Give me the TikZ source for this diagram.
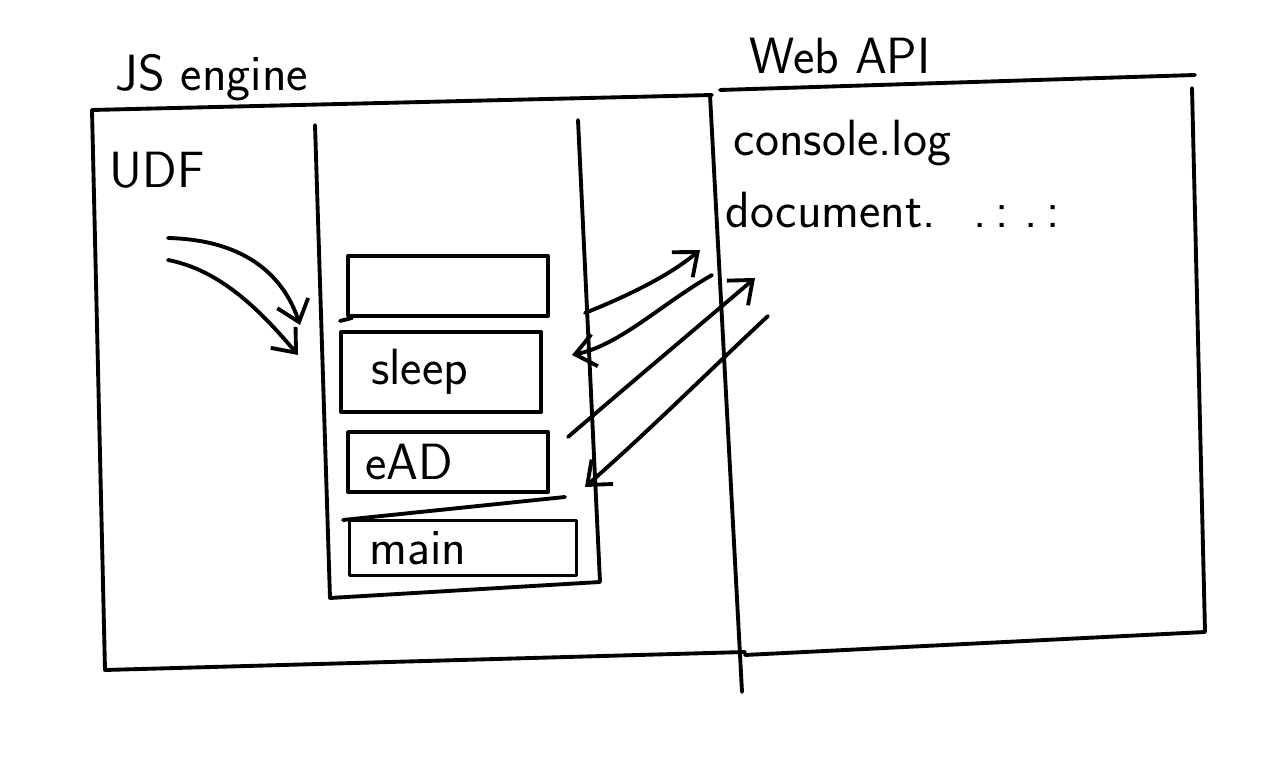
\documentclass[tikz,border=0pt]{standalone}
\usetikzlibrary{arrows.meta}

\begin{document}
\begin{tikzpicture}[x=0.2mm, y=-0.2mm, line width=2.2pt, line cap=round, line join=round,
      every node/.append style={font=\sffamily\fontsize{29}{34}\selectfont},
      call/.style={-{Straight Barb[length=4mm,width=6.5mm,line width=2.2pt]}}]
    \tikzstyle{frame} = [draw=black,line width=2.2pt,inner xsep=4mm,inner ysep=0pt,align=left,text width=32mm]
    \tikzstyle{title} = [anchor=center]
    \useasboundingbox (0,0) rectangle (1280,768);
    % outer boxes
    \draw (92,110) -- (712,95);
    \draw (92,110) -- (105,670) -- (745,652);
    \draw (710,95) -- (742,692);
    \draw (720,90) -- (1195,75);
    \draw (1192,88) -- (1205,632) -- (745,655);
    \node [title] (js) at (212,78) {JS engine};
    \node [title] (web) at (840,56) {Web API};
    \node [title] (udf) at (157,170) {UDF};
    \node [title,anchor=west] (log) at (726,143) {console.log};
    \node [title,anchor=west] (doc) at (718,210) {document. \ .\,:\ .\,:};
    % call stack
    \draw (315,125) -- (330,598) -- (600,582) -- (578,120);
    \node [frame,minimum height=12mm] (empty) at (448,286) {};
    \draw (340,321) -- (352,318);
    \node [frame,minimum height=16mm,inner xsep=6mm,text width=28mm] (sleep) at (441,372) {sleep};
    \node [frame,minimum height=12mm,inner xsep=3.5mm,text width=33mm] (ead) at (448,462) {eAD};
    \draw (343,520) -- (565,497);
    \node [frame,minimum height=11mm,text width=37.4mm] (main) at (463,548) {main};
    % calls
    \coordinate (u1) at (168,238);
    \coordinate (u2) at (168,260);
    \coordinate (s1) at (300,325);
    \coordinate (s2) at (298,355);
    \draw [call] (u1) .. controls (250,240) and (285,280) .. (s1);
    \draw [call] (u2) .. controls (220,270) and (260,310) .. (s2);
    \coordinate (a1) at (585,313);
    \coordinate (b1) at (700,250);
    \coordinate (a2) at (712,275);
    \coordinate (b2) at (572,355);
    \coordinate (a3) at (568,437);
    \coordinate (b3) at (755,278);
    \coordinate (a4) at (768,316);
    \coordinate (b4) at (585,487);
    \draw [call] (a1) .. controls (630,295) and (670,275) .. (b1);
    \draw [call] (a2) .. controls (660,305) and (620,345) .. (b2);
    \draw [call] (a3) .. controls (640,375) and (700,325) .. (b3);
    \draw [call] (a4) .. controls (710,370) and (650,430) .. (b4);
  \end{tikzpicture}
\end{document}
